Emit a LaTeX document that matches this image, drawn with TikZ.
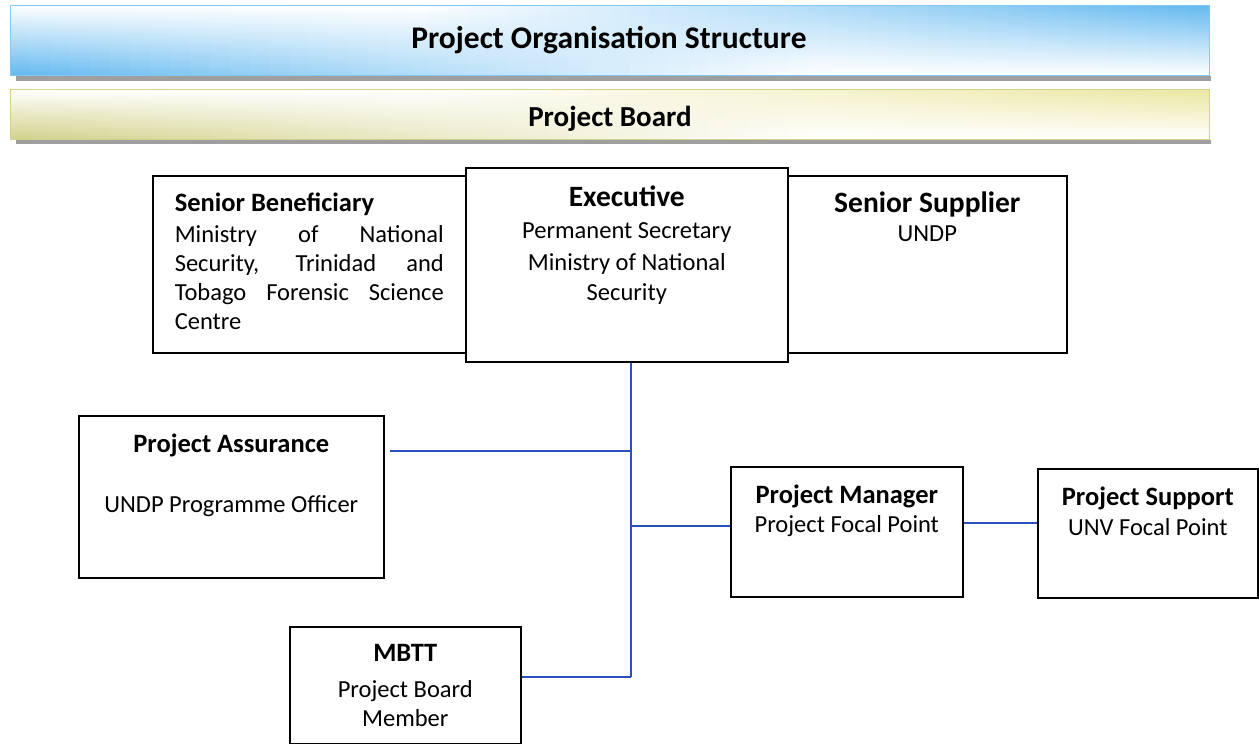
\documentclass[tikz,border=0pt]{standalone}
\usepackage{fontspec}
\setmainfont{Carlito}
\usetikzlibrary{positioning}

\definecolor{barBlue}{RGB}{100,185,240}
\definecolor{barOlive}{RGB}{210,210,140}
\definecolor{barYellow}{RGB}{235,230,160}
\definecolor{linkBlue}{RGB}{40,80,190}

\newcommand{\bodyFont}{\fontsize{24.5}{29}\selectfont}
\newcommand{\headFont}{\fontsize{26.5}{29}\selectfont\bfseries}
\newcommand{\bigHeadFont}{\fontsize{29.5}{31}\selectfont\bfseries}

\tikzset{
    orgbox/.style={draw=black, line width=1.6pt, fill=white, inner sep=0pt, anchor=north west},
    boxtext/.style={inner sep=0pt, align=center, font=\bodyFont},
    bartext/.style={inner sep=0pt, font=\fontsize{31.5}{34}\selectfont\bfseries},
    link/.style={draw=linkBlue, line width=1.4pt}
}

\newcommand{\drawOrgBox}[5]{
    \node[orgbox, minimum width=#4pt, minimum height=#5pt] (#1) at (#2,#3) {}
}
% bar from y=#1 to y=#2, colour #3 at top right, #4 at bottom left
\newcommand{\drawShadedBar}[4]{
    \begin{scope}
        \clip (10,#1) rectangle (1209,#2);
        \foreach \i in {0,...,59}{
            \pgfmathsetmacro{\xa}{10+\i*19.983}
            \pgfmathsetmacro{\xb}{\xa+20.8}
            \pgfmathsetmacro{\pBot}{max(0,100-\i*2.5)}
            \pgfmathsetmacro{\pTop}{max(0,(\i-20)*2.56)}
            \shade[top color=#3!\pTop!white, middle color=white, bottom color=#4!\pBot!white] (\xa,#1) rectangle (\xb,#2);
        }
    \end{scope}
}

\begin{document}
\begin{tikzpicture}[x=1pt,y=-1pt]
            \useasboundingbox (0,0) rectangle (1259,744);

            % title bars
            \fill[gray!75] (16,76) rectangle (1211,81);
            \drawShadedBar{5}{75}{barBlue}{barBlue}
            \draw[barBlue!80, line width=0.8pt] (10,5) rectangle (1209,75);
            \node[bartext] (title) at (609,40) {Project Organisation Structure};

            \fill[gray!75] (16,140) rectangle (1211,144);
            \drawShadedBar{89}{139}{barYellow}{barOlive}
            \draw[barOlive, line width=0.8pt] (10,89) rectangle (1209,139);
            \node[bartext, font=\fontsize{29}{32}\selectfont\bfseries] (board) at (610,119) {Project Board};

            % board members
            \drawOrgBox{sb}{152}{175}{313}{177};
            \drawOrgBox{ss}{787}{175}{279}{177};
            \drawOrgBox{exec}{465}{167}{322}{194};

            \node[boxtext, align=justify, text width=269pt, below=18pt of sb.north] (sbtext)
                {{\headFont Senior Beneficiary}\\[2pt]
                 Ministry of National\linebreak Security, Trinidad and\linebreak Tobago Forensic Science\linebreak Centre};
            \node[boxtext, below=19pt of exec.north] (exectext)
                {{\bigHeadFont Executive}\\[3pt] Permanent Secretary\\[3pt] Ministry of National\\[1pt] Security};
            \node[boxtext, below=17pt of ss.north] (sstext)
                {{\bigHeadFont Senior Supplier}\\ UNDP};

            % project level
            \drawOrgBox{pa}{78}{415}{305}{162};
            \drawOrgBox{pm}{730}{466}{232}{130};
            \drawOrgBox{ps}{1037}{468}{220}{129};
            \drawOrgBox{mbtt}{289}{626}{231}{117};

            \node[boxtext, below=19pt of pa.north] (patext)
                {{\headFont Project Assurance}\\[31pt] UNDP Programme Officer};
            \node[boxtext, below=19pt of pm.north] (pmtext)
                {{\headFont Project Manager}\\ Project Focal Point};
            \node[boxtext, below=19pt of ps.north] (pstext)
                {{\headFont Project Support}\\[1pt] UNV Focal Point};
            \node[boxtext, below=18pt of mbtt.north] (mbtttext)
                {{\headFont MBTT}\\[7pt] Project Board\\ Member};

            % connectors
            \coordinate (jPA) at (631,451);
            \coordinate (jPM) at (631,526);
            \coordinate (jMB) at (631,677);
            \draw[link] (exec.south -| jMB) -- (jMB);
            \draw[link] (jPA) -- ([xshift=5pt]jPA -| pa.east);
            \draw[link] (jPM) -- (jPM -| pm.west);
            \draw[link] (jMB) -- (jMB -| mbtt.east);
            \draw[link] ([yshift=9pt]pm.east) -- ([yshift=9pt]pm.east -| ps.west);
        \end{tikzpicture}
\end{document}
